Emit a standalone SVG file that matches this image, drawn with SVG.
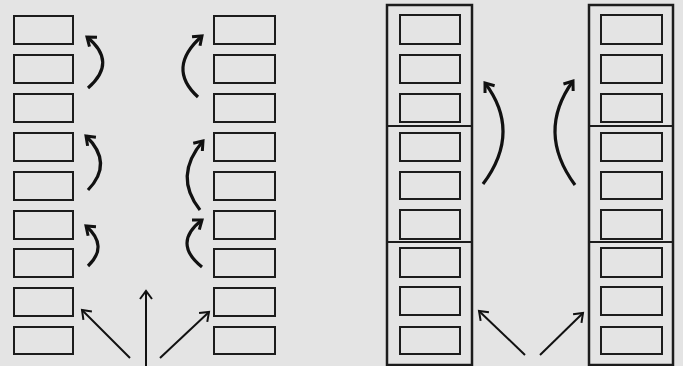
<svg xmlns="http://www.w3.org/2000/svg" width="683" height="366" viewBox="0 0 683 366">
<style>
.bx{fill:none;stroke:#1c1c1c;stroke-width:2}
.ob{fill:none;stroke:#1c1c1c;stroke-width:2.5}
.dv{stroke:#1c1c1c;stroke-width:2}
.cv{fill:none;stroke:#111;stroke-width:3.2;marker-end:url(#h)}
.st{fill:none;stroke:#111;stroke-width:2;marker-end:url(#hs)}
</style>
<defs>
<marker id="h" markerUnits="userSpaceOnUse" markerWidth="16" markerHeight="16" refX="10" refY="7" orient="auto" viewBox="0 0 16 14">
<path d="M2,1 L10,7 L2,13" fill="none" stroke="#111" stroke-width="3"/>
</marker>
<marker id="hs" markerUnits="userSpaceOnUse" markerWidth="16" markerHeight="16" refX="10" refY="7" orient="auto" viewBox="0 0 16 14">
<path d="M2,1 L10,7 L2,13" fill="none" stroke="#111" stroke-width="2"/>
</marker>
</defs>
<rect width="683" height="366" fill="#e4e4e4"/>
<g id="colA">
<rect class="bx" x="14" y="16" width="59" height="28"/>
<rect class="bx" x="14" y="55" width="59" height="28"/>
<rect class="bx" x="14" y="94" width="59" height="28"/>
<rect class="bx" x="14" y="133" width="59" height="28"/>
<rect class="bx" x="14" y="172" width="59" height="28"/>
<rect class="bx" x="14" y="211" width="59" height="28"/>
<rect class="bx" x="14" y="249" width="59" height="28"/>
<rect class="bx" x="14" y="288" width="59" height="28"/>
<rect class="bx" x="14" y="327" width="59" height="27"/>
</g>
<g id="colB">
<rect class="bx" x="214" y="16" width="61" height="28"/>
<rect class="bx" x="214" y="55" width="61" height="28"/>
<rect class="bx" x="214" y="94" width="61" height="28"/>
<rect class="bx" x="214" y="133" width="61" height="28"/>
<rect class="bx" x="214" y="172" width="61" height="28"/>
<rect class="bx" x="214" y="211" width="61" height="28"/>
<rect class="bx" x="214" y="249" width="61" height="28"/>
<rect class="bx" x="214" y="288" width="61" height="28"/>
<rect class="bx" x="214" y="327" width="61" height="27"/>
</g>
<g id="colC">
<rect class="ob" x="387" y="5" width="85" height="360"/>
<line class="dv" x1="387" y1="126" x2="472" y2="126"/>
<line class="dv" x1="387" y1="242" x2="472" y2="242"/>
<rect class="bx" x="400" y="15" width="60" height="29"/>
<rect class="bx" x="400" y="55" width="60" height="28"/>
<rect class="bx" x="400" y="94" width="60" height="28"/>
<rect class="bx" x="400" y="133" width="60" height="28"/>
<rect class="bx" x="400" y="172" width="60" height="27"/>
<rect class="bx" x="400" y="210" width="60" height="29"/>
<rect class="bx" x="400" y="248" width="60" height="29"/>
<rect class="bx" x="400" y="287" width="60" height="28"/>
<rect class="bx" x="400" y="327" width="60" height="27"/>
</g>
<g id="colD">
<rect class="ob" x="589" y="5" width="84" height="360"/>
<line class="dv" x1="589" y1="126" x2="673" y2="126"/>
<line class="dv" x1="589" y1="242" x2="673" y2="242"/>
<rect class="bx" x="601" y="15" width="61" height="29"/>
<rect class="bx" x="601" y="55" width="61" height="28"/>
<rect class="bx" x="601" y="94" width="61" height="28"/>
<rect class="bx" x="601" y="133" width="61" height="28"/>
<rect class="bx" x="601" y="172" width="61" height="27"/>
<rect class="bx" x="601" y="210" width="61" height="29"/>
<rect class="bx" x="601" y="248" width="61" height="29"/>
<rect class="bx" x="601" y="287" width="61" height="28"/>
<rect class="bx" x="601" y="327" width="61" height="27"/>
</g>
<g id="connectors">
<path class="cv" d="M88,88 Q118,62 87,37"/>
<path class="cv" d="M88,190 Q114,163 86,136"/>
<path class="cv" d="M88,266 Q109,246 86,226"/>
<path class="cv" d="M198,97 Q166,68 202,36"/>
<path class="cv" d="M200,210 Q173,176 203,141"/>
<path class="cv" d="M202,267 Q172,243 202,220"/>
<path class="cv" d="M483,184 Q522,132 485,83"/>
<path class="cv" d="M575,185 Q536,132 573,81"/>
<path class="st" d="M130,358 L82,310"/>
<path class="st" d="M146,366 L146,291"/>
<path class="st" d="M160,358 L209,312"/>
<path class="st" d="M525,355 L479,311"/>
<path class="st" d="M540,355 L583,313"/>
</g>
</svg>
